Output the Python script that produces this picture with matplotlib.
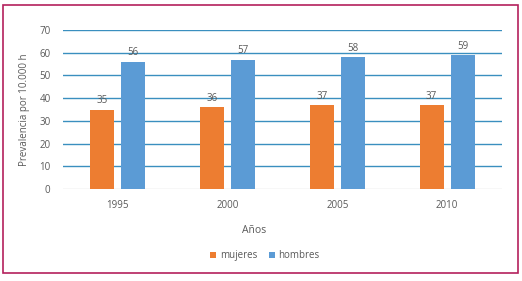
import numpy as np
import matplotlib.pyplot as plt
from matplotlib.patches import Rectangle

plt.rcParams['font.family'] = ['Open Sans', 'DejaVu Sans']

years = ['1995', '2000', '2005', '2010']
mujeres = [35, 36, 37, 37]
hombres = [56, 57, 58, 59]

c_muj = '#ed7d31'
c_hom = '#5b9bd5'
txt = '#595959'

fig = plt.figure(figsize=(5.22, 2.81), dpi=100)
fig.patches.append(Rectangle((3 / 522, 1 - 273 / 281), 515 / 522, 268 / 281,
                             transform=fig.transFigure, fill=False,
                             edgecolor='#b4205c', linewidth=1.2))

ax = fig.add_axes([63 / 522, 1 - 189 / 281, 439 / 522, 159 / 281])
x = np.arange(len(years))
w = 0.22
off = 0.141
b1 = ax.bar(x - off, mujeres, w, color=c_muj, label='mujeres', zorder=3)
b2 = ax.bar(x + off, hombres, w, color=c_hom, label='hombres', zorder=3)
for bars, vals in ((b1, mujeres), (b2, hombres)):
    for r, v in zip(bars, vals):
        ax.text(r.get_x() + r.get_width() / 2, v + 1.5, str(v), ha='center',
                va='bottom', fontsize=7, color=txt)

ax.set_xlim(-0.5, 3.5)
ax.set_ylim(0, 70)
ax.set_yticks(range(0, 71, 10))
ax.set_xticks(x)
ax.set_xticklabels(years)
for y in range(10, 71, 10):
    ax.axhline(y, color='#3a8fbf', linewidth=1.0, zorder=1)
ax.axhline(0, color='#d9d9d9', linewidth=1.0, zorder=2)
for s in ax.spines.values():
    s.set_visible(False)
ax.tick_params(length=0, labelsize=7, labelcolor=txt)
ax.tick_params(axis='x', pad=8)
ax.tick_params(axis='y', pad=9)
ax.set_xlabel('Años', fontsize=7.5, color=txt, labelpad=10)
ax.xaxis.set_label_coords(0.435, -0.225)
ax.set_ylabel('Prevalencia por 10.000 h', fontsize=7, color=txt, labelpad=7)

ax.legend(loc='center', bbox_to_anchor=(0.46, -0.42), ncol=2, frameon=False,
          fontsize=7, handlelength=0.6, handleheight=0.6, handletextpad=0.4,
          columnspacing=1.2, labelcolor=txt)

fig.savefig('out.png', dpi=100)
